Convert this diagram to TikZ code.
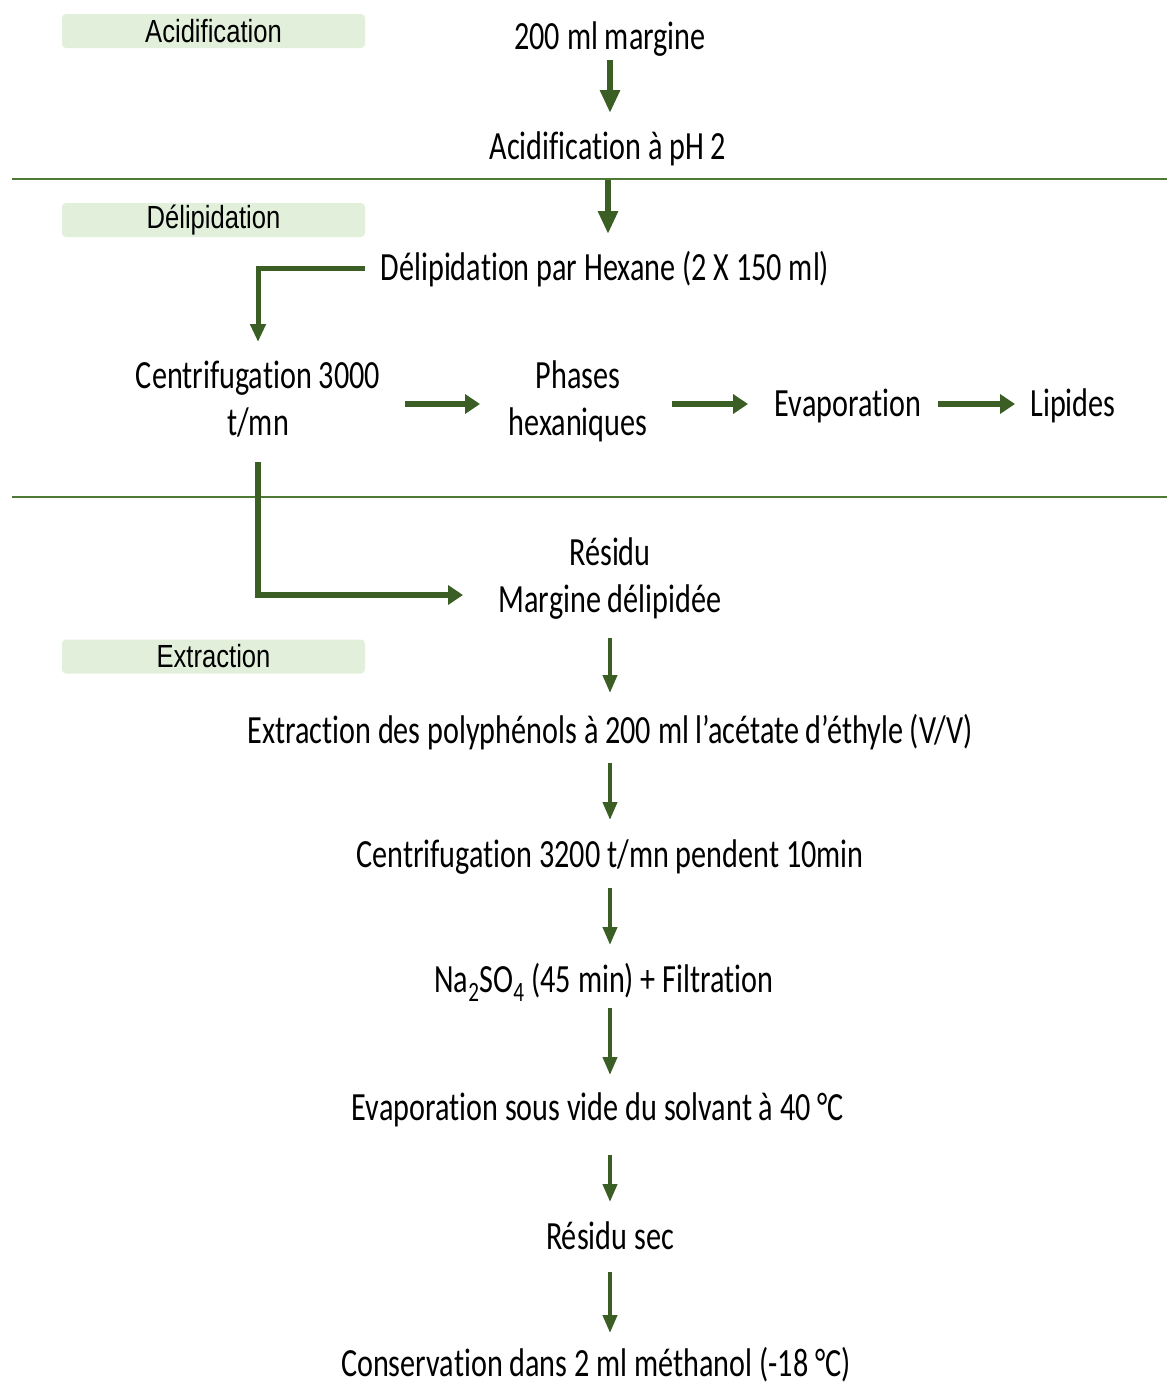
\documentclass[tikz,border=0pt]{standalone}
\usepackage{fontspec}
\setmainfont{Carlito}[FakeStretch=0.755,Ligatures=NoCommon]
\newfontfamily\labelfont{Liberation Sans}[FakeStretch=0.8]
\usetikzlibrary{arrows.meta}
\definecolor{arrgreen}{HTML}{3A5E24}
\definecolor{linegreen}{HTML}{4F7A35}
\definecolor{boxgreen}{HTML}{E2EFDA}
\newcommand{\topstrut}{\rule{0pt}{27pt}}
\newcommand{\botstrut}{\rule[-12pt]{0pt}{12pt}}
\begin{document}
\begin{tikzpicture}[x=1pt,y=-1pt,
  txt/.style={inner sep=0pt, font=\fontsize{40}{47}\selectfont, text=black, text height=31pt, text depth=7pt},
  txtii/.style={inner sep=0pt, font=\fontsize{40}{47}\selectfont, text=black, align=center},
  sec/.style={fill=boxgreen, rounded corners=4pt, minimum width=303pt, minimum height=34pt, inner sep=0pt, text=black, font=\labelfont\fontsize{32}{34}\selectfont},
  bigarr/.style={draw=arrgreen, line width=6pt, -{Triangle[width=19pt,length=23pt]}},
  elbarr/.style={draw=arrgreen, line width=5pt, -{Triangle[width=15pt,length=18pt]}},
  harr/.style={draw=arrgreen, line width=6pt, -{Triangle[width=19pt,length=15pt]}},
  varr/.style={draw=arrgreen, line width=4pt, -{Triangle[width=14pt,length=18pt]}},
  sepline/.style={draw=linegreen, line width=2.5pt}
]
\useasboundingbox (0,0) rectangle (1167,1385);

% section labels
\node[sec] (lacid) at (213.5,31) {Acidification};
\node[sec] (ldelip) at (213.5,220) {Délipidation};
\node[sec] (lextr) at (213.5,656.5) {Extraction};

% separator lines
\draw[sepline] (12,179) -- (1167,179);
\draw[sepline] (12,497) -- (1167,497);

% nodes
\node[txt] (m1) at (610,37) {200 ml margine};
\node[txt] (a1) at (608,147) {Acidification à pH 2};
\node[txt] (d1) at (605,268) {Délipidation par Hexane (2 X 150 ml)};
\node[txtii] (cent) at (258,404) {\topstrut Centrifugation 3000\\t/mn\botstrut};
\node[txtii] (ph) at (578,404) {\topstrut Phases\\hexaniques\botstrut};
\node[txt] (ev) at (848,404) {Evaporation};
\node[txt] (lip) at (1073,404) {Lipides};
\node[txtii] (res) at (610,581) {\topstrut Résidu\\Margine délipidée\botstrut};
\node[txt] (ex) at (610,731) {Extraction des polyphénols à 200 ml l’acétate d’éthyle (V/V)};
\node[txt] (c2) at (610,855) {Centrifugation 3200 t/mn pendent 10min};
\node[txt] (na) at (604,980) {Na\textsubscript{2}SO\textsubscript{4} (45 min) + Filtration};
\node[txt] (ev2) at (598,1108) {Evaporation sous vide du solvant à 40 °C};
\node[txt] (rs) at (610,1237) {Résidu sec};
\node[txt] (cons) at (596,1364) {Conservation dans 2 ml méthanol (-18 °C)};

% connectors
\draw[bigarr, shorten <=23pt, shorten >=34pt] (m1.center) -- (m1.center |- a1.center);
\draw[bigarr, shorten <=33pt, shorten >=34pt] (a1.center) -- (a1.center |- d1.center);
\draw[elbarr, shorten <=240pt, shorten >=62pt] (d1.center) -| (cent.center);
\draw[harr, shorten <=147pt, shorten >=98pt] (cent.center) -- (ph.center);
\draw[harr, shorten <=94pt, shorten >=100pt] (ph.center) -- (ev.center);
\draw[harr, shorten <=90pt, shorten >=58pt] (ev.center) -- (lip.center);
\draw[harr, shorten <=58pt, shorten >=147pt] (cent.center) |- ([yshift=-14pt]res.center);
\draw[varr, shorten <=57pt, shorten >=38pt] (res.center) -- (ex.center);
\draw[varr, shorten <=32pt, shorten >=35pt] (ex.center) -- (c2.center);
\draw[varr, shorten <=33pt, shorten >=35pt] (c2.center) -- (c2.center |- na.center);
\draw[varr, shorten <=28pt, shorten >=33pt] (c2.center |- na.center) -- (c2.center |- ev2.center);
\draw[varr, shorten <=47pt, shorten >=35pt] (c2.center |- ev2.center) -- (rs.center);
\draw[varr, shorten <=35pt, shorten >=31pt] (rs.center) -- (rs.center |- cons.center);
\end{tikzpicture}
\end{document}
